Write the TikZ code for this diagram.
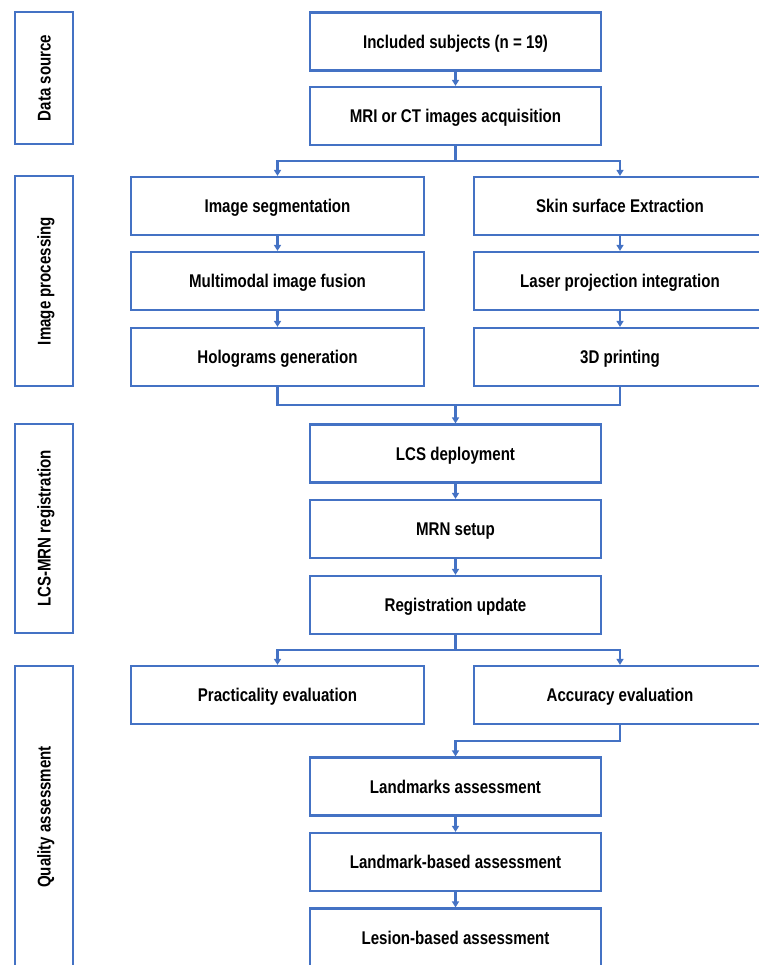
\documentclass[tikz,border=0pt]{standalone}
\usepackage{fontspec}
\setmainfont{Liberation Sans}[FakeStretch=0.82]
\usetikzlibrary{arrows.meta,calc}
\definecolor{frameblue}{HTML}{4472C4}
\begin{document}
\begin{tikzpicture}[x=1pt,y=1pt,
  box/.style={draw=frameblue, line width=2.2pt, fill=white, inner sep=0pt,
    text height=13.2pt, text depth=0pt,
    minimum height=58pt, font=\fontsize{18.4}{22}\selectfont\bfseries, text=black},
  cbox/.style={box, minimum width=291pt},
  sidebox/.style={box, rotate=90, minimum height=58pt},
  line/.style={draw=frameblue, line width=2.2pt},
  conn/.style={line, -{Triangle[width=7pt,length=6pt]}}]
\useasboundingbox (0,0) rectangle (759,-965);
\clip (0,0) rectangle (759,-965);
% side boxes
\node[sidebox, minimum width=132pt] (ds) at (44,-78) {Data source};
\node[sidebox, minimum width=210pt] (ip) at (44,-281) {Image processing};
\node[sidebox, minimum width=209pt] (reglab) at (44,-528.5) {LCS-MRN registration};
\node[sidebox, minimum width=302pt] (qa) at (44,-817) {Quality assessment};
% center column
\node[cbox] (inc) at (455.5,-41.5) {Included subjects (n = 19)};
\node[cbox] (mri) at (455.5,-116) {MRI or CT images acquisition};
% left / right columns
\node[cbox, minimum width=293pt] (seg) at (277.5,-206) {Image segmentation};
\node[cbox, minimum width=293pt] (mm) at (277.5,-281) {Multimodal image fusion};
\node[cbox, minimum width=293pt] (holo) at (277.5,-357) {Holograms generation};
\node[cbox, minimum width=292pt] (skin) at (620,-206) {Skin surface Extraction};
\node[cbox, minimum width=292pt] (laser) at (620,-281) {Laser projection integration};
\node[cbox, minimum width=292pt] (print) at (620,-357) {3D printing};
% registration
\node[cbox] (lcsd) at (455.5,-453.5) {LCS deployment};
\node[cbox] (mrn) at (455.5,-529) {MRN setup};
\node[cbox] (regu) at (455.5,-605) {Registration update};
% quality
\node[cbox, minimum width=293pt] (prac) at (277.5,-695) {Practicality evaluation};
\node[cbox, minimum width=292pt] (acc) at (620,-695) {Accuracy evaluation};
\node[cbox] (land) at (455.5,-786.5) {Landmarks assessment};
\node[cbox] (lb) at (455.5,-862) {Landmark-based assessment};
\node[cbox] (les) at (455.5,-937.5) {Lesion-based assessment};
% connectors
\draw[conn] (inc) -- (mri);
\coordinate (b1) at ($(mri.south)!0.5!(mri.south |- seg.north)$);
\draw[line] (mri.south) -- (b1);
\draw[conn] (b1) -| (seg.north);
\draw[conn] (b1) -| (skin.north);
\draw[conn] (seg) -- (mm);
\draw[conn] (mm) -- (holo);
\draw[conn] (skin) -- (laser);
\draw[conn] (laser) -- (print);
\coordinate (m1) at ($(lcsd.north)!0.5!(lcsd.north |- holo.south)$);
\draw[line] (holo.south) |- (m1) -| (print.south);
\draw[conn] (m1) -- (lcsd.north);
\draw[conn] (lcsd) -- (mrn);
\draw[conn] (mrn) -- (regu);
\coordinate (b2) at ($(regu.south)!0.5!(regu.south |- prac.north)$);
\draw[line] (regu.south) -- (b2);
\draw[conn] (b2) -| (prac.north);
\draw[conn] (b2) -| (acc.north);
\coordinate (a1) at ($(acc.south)!0.5!(acc.south |- land.north)$);
\draw[conn] (acc.south) -- (a1) -| (land.north);
\draw[conn] (land) -- (lb);
\draw[conn] (lb) -- (les);
\end{tikzpicture}
\end{document}
